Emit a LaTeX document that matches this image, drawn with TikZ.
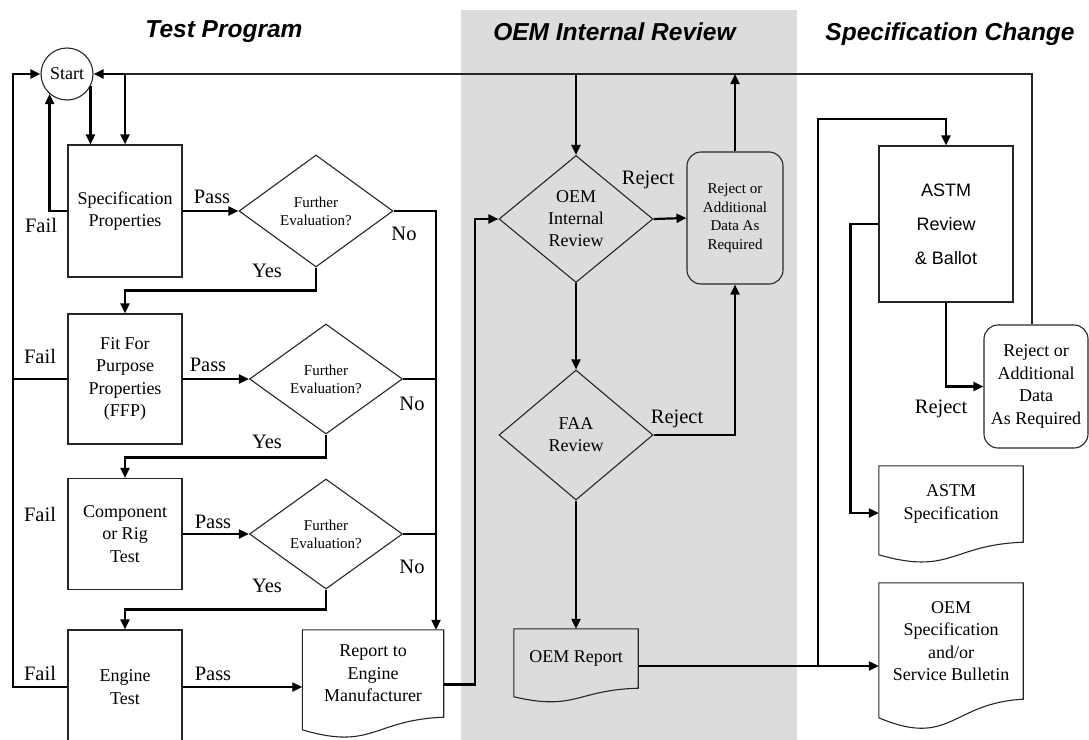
\documentclass[tikz,border=0pt]{standalone}
\usepackage{fontspec}
\setmainfont{Liberation Serif}
\newfontfamily\arialf{Liberation Sans}
\usetikzlibrary{shapes.geometric,arrows.meta,calc}
\definecolor{band}{RGB}{220,220,220}
\begin{document}
\begin{tikzpicture}[x=1pt,y=-1pt,
  shp/.style={draw=black!85, line width=1.1pt},
  box/.style={shp, rectangle, minimum width=114pt, align=center, inner sep=0, font=\fontsize{18}{22.5}\selectfont},
  dia/.style={shp, diamond, aspect=1.4, inner sep=0, align=center, font=\fontsize{15}{18}\selectfont},
  rbox/.style={shp, rectangle, rounded corners=14pt, align=center, inner sep=0},
  docn/.style={rectangle, inner sep=0, align=center, font=\fontsize{18}{22.5}\selectfont},
  ttl/.style={font=\arialf\bfseries\itshape\fontsize{24.5}{28}\selectfont, anchor=base, inner sep=0},
  lbl/.style={font=\fontsize{20.5}{24}\selectfont, anchor=base, inner sep=0},
  ln/.style={line width=2.2pt},
  arr/.style={line width=2.2pt, -{Triangle[length=10pt,width=9pt]}},
  thinln/.style={line width=1.1pt, draw=black!85}
]
\useasboundingbox (0,0) rectangle (1089,739);
\clip (0,0) rectangle (1089,739);
\fill[band] (461,10) rectangle (797,745);

% titles
\node[ttl] (t1) at (224,37.5) {Test Program};
\node[ttl] (t2) at (614.5,40) {OEM Internal Review};
\node[ttl] (t3) at (950,40) {Specification Change};

% nodes: test program
\node[shp, circle, minimum size=52pt, inner sep=0, font=\fontsize{18}{20}\selectfont] (start) at (67,74) {Start};
\node[box, minimum height=132pt] (spec) at (125,211) {Specification\\Properties};
\node[dia, minimum width=154pt, minimum height=112pt] (d1) at (316,211) {Further\\Evaluation?};
\node[box, minimum height=130pt] (ffp) at (125,379) {Fit For\\Purpose\\Properties\\(FFP)};
\node[dia, minimum width=153pt, minimum height=110pt] (d2) at (326,379) {Further\\Evaluation?};
\node[box, minimum height=111pt] (comp) at (125,534) {Component\\or Rig\\Test};
\node[dia, minimum width=153pt, minimum height=110pt] (d3) at (326,534) {Further\\Evaluation?};
\node[box, minimum height=114pt] (eng) at (125,687) {Engine\\Test};
\node[docn, minimum width=141pt, minimum height=87pt] (rep) at (373,673.5) {Report to\\Engine\\Manufacturer};
\draw[shp] (rep.south east) -- (rep.north east) -- (rep.north west) -- ++(0,100)
  .. controls +(70.5,21) and +(-70.5,2.6) .. (rep.south east) -- cycle;

% OEM internal review
\node[dia, font=\fontsize{18}{22}\selectfont, minimum width=154pt, minimum height=127pt] (oem) at (576,219) {OEM\\Internal\\Review};
\node[rbox, minimum width=96pt, minimum height=132pt, font=\fontsize{15}{18.5}\selectfont] (rej1) at (735,218) {Reject or\\Additional\\Data As\\Required};
\node[dia, font=\fontsize{18}{22}\selectfont, minimum width=154pt, minimum height=130pt] (faa) at (576,435) {FAA\\Review};
\node[docn, minimum width=124pt, minimum height=59pt] (oemrep) at (576,658.5) {OEM Report};
\draw[shp] (oemrep.south east) -- (oemrep.north east) -- (oemrep.north west) -- ++(0,68)
  .. controls +(62,14.4) and +(-62,1.8) .. (oemrep.south east) -- cycle;

% specification change
\node[box, font=\arialf\fontsize{18}{34}\selectfont, minimum width=134pt, minimum height=156pt] (astm) at (946,224) {ASTM\\Review\\\& Ballot};
\node[rbox, minimum width=104pt, minimum height=123pt, font=\fontsize{18}{22.5}\selectfont] (rej2) at (1036,386.5) {Reject or\\Additional\\Data\\As Required};
\node[docn, minimum width=144pt, minimum height=76pt] (aspec) at (951,504) {ASTM\\Specification};
\draw[shp] (aspec.south east) -- (aspec.north east) -- (aspec.north west) -- ++(0,89)
  .. controls +(72,20.8) and +(-72,2.6) .. (aspec.south east) -- cycle;
\node[docn, minimum width=144pt, minimum height=116pt] (ospec) at (951,641) {OEM\\Specification\\and/or\\Service Bulletin};
\draw[shp] (ospec.south east) -- (ospec.north east) -- (ospec.north west) -- ++(0,135)
  .. controls +(72,30.4) and +(-72,3.8) .. (ospec.south east) -- cycle;

% coordinates
\coordinate (j1) at (spec.north |- start.east);
\coordinate (lb) at (13,687);
\coordinate (nx) at (436,211);
\coordinate (m) at (818,666);

% top loop
\draw[thinln] ([xshift=-4pt]rej2.north) |- (j1);
\draw[arr] (j1) -- (start.east);
\draw[arr] (j1) -- (spec.north);
\draw[arr] (start.-28) -- (start.-28 |- spec.north);
\draw[arr] (spec.west) -| (start.-131);
\draw[arr] (eng.west) -- (lb) |- (start.west);
\draw[ln] (ffp.west) -- (ffp.west -| lb);

% pass
\draw[arr] (spec.east) -- (d1.west);
\draw[arr] (ffp.east) -- (d2.west);
\draw[arr] (comp.east) -- (d3.west);
\draw[arr] (eng.east) -- (eng.east -| rep.west);

% yes
\draw[arr] (d1.south) -- ++(0,23) -| (ffp.north);
\draw[arr] (d2.south) -- ++(0,23) -| (comp.north);
\draw[arr] (d3.south) -- ++(0,20) -| (eng.north);

% no
\draw[arr] (d1.east) -- (nx) -- (nx |- rep.north);
\draw[ln] (d2.east) -- (d2.east -| nx);
\draw[ln] (d3.east) -- (d3.east -| nx);

% to OEM
\draw[arr] ([yshift=-11pt]rep.east) -- ++(31,0) |- (oem.west);
\draw[arr] (oem.north |- j1) -- (oem.north);
\draw[arr] (oem.east) -- (rej1.west);
\draw[arr] (rej1.north) -- (rej1.north |- j1);
\draw[arr] (oem.south) -- (faa.north);
\draw[arr] (faa.east) -| (rej1.south);
\draw[arr] (faa.south) -- (oemrep.north);

% to spec change
\draw[arr] (oemrep.east |- m) -- (m -| ospec.west);
\draw[arr] (m) -- (818,119) -| (astm.north);
\draw[arr] (astm.west) -- ++(-28,0) |- ([yshift=-9pt]aspec.west);
\draw[arr] (astm.south) |- (rej2.west);

% labels
\node[lbl] (p1) at (212,203) {Pass};
\node[lbl] (f1) at (41,232.5) {Fail};
\node[lbl] (y1) at (267,277) {Yes};
\node[lbl] (n1) at (404,240) {No};
\node[lbl] (f2) at (40,363) {Fail};
\node[lbl] (p2) at (208,371) {Pass};
\node[lbl] (n2) at (412,410) {No};
\node[lbl] (y2) at (267,448) {Yes};
\node[lbl] (f3) at (40,521.5) {Fail};
\node[lbl] (p3) at (213,528) {Pass};
\node[lbl] (n3) at (412,573) {No};
\node[lbl] (y3) at (267,592) {Yes};
\node[lbl] (f4) at (40,680) {Fail};
\node[lbl] (p4) at (213,680) {Pass};
\node[lbl] (r1) at (648,184) {Reject};
\node[lbl] (r2) at (677,423) {Reject};
\node[lbl] (r3) at (941,413) {Reject};
\end{tikzpicture}
\end{document}
